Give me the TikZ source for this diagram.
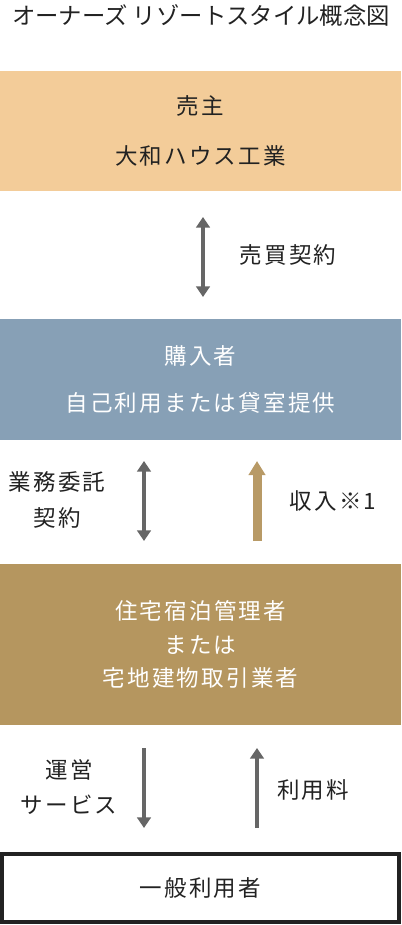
\documentclass[tikz,border=0pt]{standalone}
\usepackage{xcolor}
\usepackage{fontspec}
\setmainfont{Noto Sans CJK JP}
\newfontfamily\jpspaced[LetterSpace=10]{Noto Sans CJK JP}
\usetikzlibrary{
		arrows.meta,
		positioning
	}
\definecolor{sellerfill}{HTML}{F3CC99}
\definecolor{buyerfill}{HTML}{87A0B6}
\definecolor{agentfill}{HTML}{B5965F}
\definecolor{incomearrow}{HTML}{B89A66}
\definecolor{arrowgray}{HTML}{666666}
\definecolor{inkdark}{HTML}{222222}
\tikzset{
		>=stealth,
		party/.style={minimum width=10.025cm, minimum height=#1, inner sep=0pt,
			align=center, font=\jpspaced\fontsize{16}{24}\selectfont},
		lbl/.style={align=center, inner sep=0pt, text=inkdark,
			font=\jpspaced\fontsize{16}{25}\selectfont},
		flow/.style={draw=arrowgray, line width=2.3pt,
			-{Triangle[width=9.6pt,length=7.5pt]}},
		twoway/.style={draw=arrowgray, line width=2.3pt,
			{Triangle[width=9.6pt,length=7.5pt]}-{Triangle[width=9.6pt,length=7.5pt]}},
		income/.style={draw=incomearrow, line width=6.4pt,
			-{Triangle[width=11.5pt,length=10pt]}}
	}
\begin{document}
\begin{tikzpicture}[x=0.025cm,y=-0.025cm]
          \useasboundingbox (0,0) rectangle (401,925);

          \node[text=inkdark, font=\fontsize{16.6}{18}\selectfont] (title) at (201,15) {オーナーズ リゾートスタイル概念図};

          \node[party=3cm, fill=sellerfill, text=inkdark] (seller) at (200.5,131)
            {売主\\[12pt]大和ハウス工業};
          \node[party=3cm, fill=buyerfill, text=white] (buyer) at (200.5,379.5)
            {購入者\\[9.5pt]自己利用または貸室提供};
          \node[party=4cm, fill=agentfill, text=white] (agent) at (200.5,644.5)
            {住宅宿泊管理者\\または\\宅地建物取引業者};
          \node[party=1.7cm, minimum width=9.925cm, draw=inkdark, line width=2.8pt,
            fill=white, text=inkdark] (guest) at (200.5,888) {一般利用者};

          \coordinate (saleA) at (203,217);
          \coordinate (saleB) at (203,297);
          \draw[twoway] (saleA) -- (saleB);
          \node[lbl] (salelbl) at (288,255) {売買契約};

          \coordinate (mgmtA) at (144,461);
          \coordinate (mgmtB) at (144,541);
          \draw[twoway] (mgmtA) -- (mgmtB);
          \node[lbl] (mgmtlbl) at (57,500) {業務委託\\契約};

          \coordinate (incA) at (257,541);
          \coordinate (incB) at (257,461);
          \draw[income] (incA) -- (incB);
          \node[lbl] (inclbl) at (333,501) {収入※1};

          \coordinate (opsA) at (144,748);
          \coordinate (opsB) at (144,828);
          \draw[flow] (opsA) -- (opsB);
          \node[lbl] (opslbl) at (69,787) {運営\\サービス};

          \coordinate (feeA) at (257,828);
          \coordinate (feeB) at (257,748);
          \draw[flow] (feeA) -- (feeB);
          \node[lbl] (feelbl) at (313,790) {利用料};
\end{tikzpicture}
\end{document}
